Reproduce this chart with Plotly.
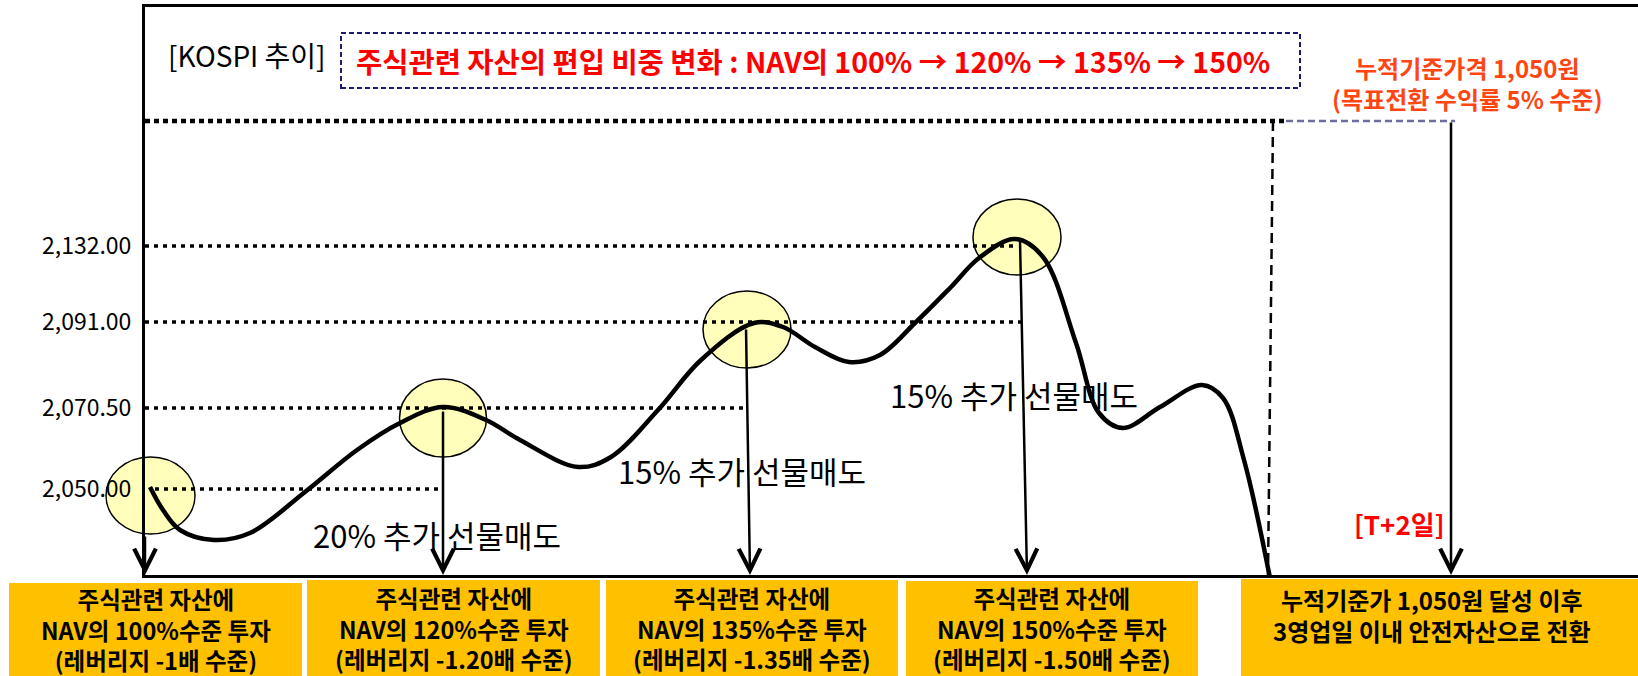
import plotly.graph_objects as go

# ---------------- data (diagram units: x = distance right of the left axis, y = height above baseline) -------------
X_RANGE = [0, 1493]
Y_RANGE = [0, 568]

LEVEL_LABELS = ["2,050.00", "2,070.50", "2,091.00", "2,132.00"]
LEVEL_Y = [86, 167, 253, 329]
LEVEL_X_START = [10, 0, 0, 0]
LEVEL_X_END = [298, 602, 877, 873]

TARGET_Y = 454
TARGET_DOT_END = 1141
TARGET_DASH_END = 1310

CURVE_X = [5, 18, 35, 69, 105, 160, 212, 255, 298, 341, 375, 433, 466, 513, 556, 609, 638, 670,
           704, 735, 770, 806, 834, 870, 898, 931, 954, 978, 1015, 1057, 1078, 1099, 1125]
CURVE_Y = [88, 65, 45, 35, 42, 83, 125, 152, 168, 155, 135, 108, 118, 165, 215, 252, 248, 228,
           213, 220, 252, 288, 317, 336, 318, 232, 162, 147, 168, 190, 177, 115, -3]

CIRCLE_CX = [5.5, 298, 602, 872]
CIRCLE_CY = [79.5, 157, 245.5, 338]
CIRCLE_RX = [44.5, 43.5, 44, 44]
CIRCLE_RY = [38.5, 39, 38.5, 38]

ARROW_TAIL_X = [0, 298, 601, 875, 1306]
ARROW_TAIL_Y = [40, 165, 247, 335, 454]
ARROW_TIP_X = [0, 298, 605, 882, 1306]

SWITCH_X = [1128, 1123]
SWITCH_Y = [454, 0]

SELL_LABELS = ["20% 추가 선물매도", "15% 추가 선물매도", "15% 추가 선물매도"]
SELL_X = [166, 471, 743]
SELL_Y = [41, 105, 181]

TITLE_TEXT = "주식관련 자산의 편입 비중 변화 : NAV의 100% → 120% → 135% → 150%"
TITLE_BOX = [196, 487, 1155, 542]  # x0, y0, x1, y1
KOSPI_TEXT = "[KOSPI 추이]"
TARGET_TEXT = ["누적기준가격 1,050원", "(목표전환 수익률 5% 수준)"]
T2_TEXT = "[T+2일]"

BOX_TEXTS = [
    ["주식관련 자산에", "NAV의 100%수준 투자", "(레버리지 -1배 수준)"],
    ["주식관련 자산에", "NAV의 120%수준 투자", "(레버리지 -1.20배 수준)"],
    ["주식관련 자산에", "NAV의 135%수준 투자", "(레버리지 -1.35배 수준)"],
    ["주식관련 자산에", "NAV의 150%수준 투자", "(레버리지 -1.50배 수준)"],
    ["누적기준가 1,050원 달성 이후", "3영업일 이내 안전자산으로 전환"],
]
BOX_X0 = [-136, 162, 461, 761, 1096]
BOX_X1 = [157, 455, 753, 1053, 1493]
BOX_TOP = [-8, -5, -5, -6, -4]
BOX_BOTTOM = -101

# ---------------- styling ----------------
FONT = "Noto Sans CJK KR, Noto Sans, sans-serif"
YELLOW = "#FFFFBB"
GOLD = "#FFC000"
RED = "#FF0000"
ORANGE = "#FF4512"
NAVY = "#1A1A6E"
SLATE = "#6E6E9E"


def px(x):
    return (x - X_RANGE[0]) / (X_RANGE[1] - X_RANGE[0])


def py(y):
    return (y - Y_RANGE[0]) / (Y_RANGE[1] - Y_RANGE[0])


fig = go.Figure()

# dotted level lines
lx, ly = [], []
for xs, xe, y in zip(LEVEL_X_START, LEVEL_X_END, LEVEL_Y):
    lx += [xs, xe, None]
    ly += [y, y, None]
fig.add_trace(go.Scatter(x=lx, y=ly, mode="lines", hoverinfo="skip",
                         line=dict(color="black", width=3.5, dash="4px,5px")))

# target level: black dotted then slate dashed
fig.add_trace(go.Scatter(x=[0, TARGET_DOT_END], y=[TARGET_Y, TARGET_Y], mode="lines", hoverinfo="skip",
                         line=dict(color="black", width=4.5, dash="5px,4px")))
fig.add_trace(go.Scatter(x=[TARGET_DOT_END, TARGET_DASH_END], y=[TARGET_Y, TARGET_Y], mode="lines",
                         hoverinfo="skip", line=dict(color=SLATE, width=2.5, dash="7px,4px")))

# vertical dashed switch line
fig.add_trace(go.Scatter(x=SWITCH_X, y=SWITCH_Y, mode="lines", hoverinfo="skip",
                         line=dict(color="black", width=2.5, dash="10px,6px")))

# KOSPI curve
fig.add_trace(go.Scatter(x=CURVE_X, y=CURVE_Y, mode="lines", hoverinfo="skip",
                         line=dict(color="black", width=4.5, shape="spline", smoothing=1.0)))

shapes = []
# yellow circles
for cx, cy, rx, ry in zip(CIRCLE_CX, CIRCLE_CY, CIRCLE_RX, CIRCLE_RY):
    shapes.append(dict(type="circle", xref="paper", yref="paper", layer="below",
                       x0=px(cx - rx), x1=px(cx + rx), y0=py(cy - ry), y1=py(cy + ry),
                       fillcolor=YELLOW, line=dict(color="black", width=1.5)))
# title box
shapes.append(dict(type="rect", xref="paper", yref="paper",
                   x0=px(TITLE_BOX[0]), y0=py(TITLE_BOX[1]), x1=px(TITLE_BOX[2]), y1=py(TITLE_BOX[3]),
                   line=dict(color=NAVY, width=2, dash="5px,3px")))
# gold boxes
for x0, x1, top in zip(BOX_X0, BOX_X1, BOX_TOP):
    shapes.append(dict(type="rect", xref="paper", yref="paper", layer="below",
                       x0=px(x0), x1=px(x1), y0=py(BOX_BOTTOM), y1=py(top),
                       fillcolor=GOLD, line=dict(width=0)))

annotations = []
# arrows
for tx, ty, hx in zip(ARROW_TAIL_X, ARROW_TAIL_Y, ARROW_TIP_X):
    annotations.append(dict(x=hx, y=0, ax=tx, ay=ty, xref="x", yref="y", axref="x", ayref="y",
                            text="", showarrow=True, arrowhead=5, arrowsize=1.7, arrowwidth=2.5,
                            arrowcolor="black", standoff=0, startstandoff=0))
# sell labels
for t, x, y in zip(SELL_LABELS, SELL_X, SELL_Y):
    annotations.append(dict(x=x, y=y, xref="x", yref="y", text=t, showarrow=False,
                            xanchor="left", yanchor="middle",
                            font=dict(family=FONT, size=31, color="black")))
# KOSPI label
annotations.append(dict(x=101.5, y=520, xref="x", yref="y", text=KOSPI_TEXT, showarrow=False,
                        xanchor="center", yanchor="middle",
                        font=dict(family=FONT, size=28, color="black")))
# title
annotations.append(dict(x=(TITLE_BOX[0] + TITLE_BOX[2]) / 2 - 8, y=515, xref="x", yref="y",
                        text="<b>" + TITLE_TEXT + "</b>", showarrow=False,
                        xanchor="center", yanchor="middle",
                        font=dict(family=FONT, size=28.5, color=RED)))
# target label
annotations.append(dict(x=1322, y=492, xref="x", yref="y",
                        text="<br>".join("<b>" + t + "</b>" for t in TARGET_TEXT), showarrow=False,
                        xanchor="center", yanchor="middle",
                        font=dict(family=FONT, size=24, color=ORANGE)))
# T+2
annotations.append(dict(x=1254, y=52, xref="x", yref="y", text="<b>" + T2_TEXT + "</b>",
                        showarrow=False, xanchor="center", yanchor="middle",
                        font=dict(family=FONT, size=26, color=RED)))
# box texts
for lines, x0, x1, top in zip(BOX_TEXTS, BOX_X0, BOX_X1, BOX_TOP):
    txt = "<br>".join("<b>" + l + "</b>" for l in lines)
    if len(lines) == 3:
        annotations.append(dict(x=px((x0 + x1) / 2), y=py((top + BOX_BOTTOM) / 2), xref="paper",
                                yref="paper", text=txt, showarrow=False,
                                xanchor="center", yanchor="middle",
                                font=dict(family=FONT, size=23.5, color="black")))
    else:
        annotations.append(dict(x=px((x0 + x1) / 2 - 8), y=py(top - 1), xref="paper", yref="paper",
                                text=txt, showarrow=False, xanchor="center", yanchor="top",
                                font=dict(family=FONT, size=24, color="black")))

fig.update_layout(
    width=1638, height=676,
    margin=dict(l=145, r=0, t=7, b=101),
    paper_bgcolor="white", plot_bgcolor="white",
    showlegend=False,
    shapes=shapes, annotations=annotations,
    xaxis=dict(range=X_RANGE, showgrid=False, zeroline=False, showticklabels=False, ticks="",
               showline=True, linecolor="black", linewidth=3, mirror=True, fixedrange=True),
    yaxis=dict(range=Y_RANGE, showgrid=False, zeroline=False, ticks="",
               tickvals=LEVEL_Y, ticktext=LEVEL_LABELS, ticklabelstandoff=6,
               tickfont=dict(family=FONT, size=23, color="black"),
               showline=True, linecolor="black", linewidth=3, fixedrange=True),
)

fig.write_html("out.html", config={"displayModeBar": False},
               post_script="document.body.style.margin='0';document.body.style.overflow='hidden';")
